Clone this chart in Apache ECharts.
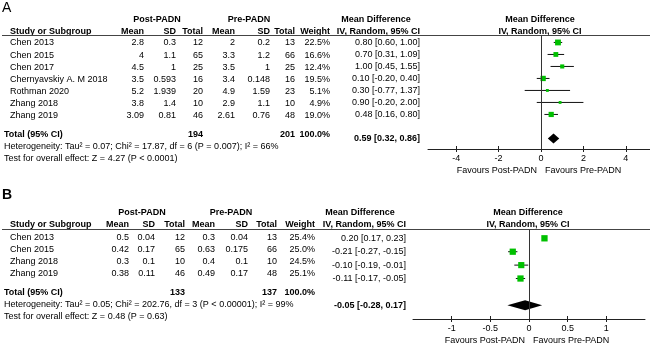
<!DOCTYPE html>
<html>
<head>
<meta charset="utf-8">
<script src="https://cdn.jsdelivr.net/npm/echarts@6/dist/echarts.min.js"></script>
<style>
  html, body { margin: 0; padding: 0; background: #fff; }
  #main { width: 650px; height: 346px; }
</style>
</head>
<body>
<div id="main"></div>
<script>
// panel A data
var studiesA = ["Chen 2013", "Chen 2015", "Chen 2017", "Chernyavskiy A. M 2018", "Rothman 2020", "Zhang 2018", "Zhang 2019"];
var postMeanA = [2.8, 4, 4.5, 3.5, 5.2, 3.8, 3.09];
var postSdA = [0.3, 1.1, 1, 0.593, 1.939, 1.4, 0.81];
var postTotalA = [12, 65, 25, 16, 20, 10, 46];
var preMeanA = [2, 3.3, 3.5, 3.4, 4.9, 2.9, 2.61];
var preSdA = [0.2, 1.2, 1, 0.148, 1.59, 1.1, 0.76];
var preTotalA = [13, 66, 25, 16, 23, 10, 48];
var weightA = [22.5, 16.6, 12.4, 19.5, 5.1, 4.9, 19.0];
var mdA = [0.80, 0.70, 1.00, 0.10, 0.30, 0.90, 0.48];
var lowA = [0.60, 0.31, 0.45, -0.20, -0.77, -0.20, 0.16];
var highA = [1.00, 1.09, 1.55, 0.40, 1.37, 2.00, 0.80];
var totalA = { post: 194, pre: 201, md: 0.59, low: 0.32, high: 0.86 };
var hetA = "Heterogeneity: Tau\u00b2 = 0.07; Chi\u00b2 = 17.87, df = 6 (P = 0.007); I\u00b2 = 66%";
var testA = "Test for overall effect: Z = 4.27 (P < 0.0001)";
var ticksA = [-4, -2, 0, 2, 4];

// panel B data
var studiesB = ["Chen 2013", "Chen 2015", "Zhang 2018", "Zhang 2019"];
var postMeanB = [0.5, 0.42, 0.3, 0.38];
var postSdB = [0.04, 0.17, 0.1, 0.11];
var postTotalB = [12, 65, 10, 46];
var preMeanB = [0.3, 0.63, 0.4, 0.49];
var preSdB = [0.04, 0.175, 0.1, 0.17];
var preTotalB = [13, 66, 10, 48];
var weightB = [25.4, 25.0, 24.5, 25.1];
var mdB = [0.20, -0.21, -0.10, -0.11];
var lowB = [0.17, -0.27, -0.19, -0.17];
var highB = [0.23, -0.15, -0.01, -0.05];
var totalB = { post: 133, pre: 137, md: -0.05, low: -0.28, high: 0.17 };
var hetB = "Heterogeneity: Tau\u00b2 = 0.05; Chi\u00b2 = 202.76, df = 3 (P < 0.00001); I\u00b2 = 99%";
var testB = "Test for overall effect: Z = 0.48 (P = 0.63)";
var ticksB = [-1, -0.5, 0, 0.5, 1];

var FONT = '9px "Liberation Sans", Arial, sans-serif';
var BFONT = 'bold 9px "Liberation Sans", Arial, sans-serif';
var GREEN = "#00c000";

function txt(x, y, s, align, bold) {
  return {
    type: "text", x: x, y: y, silent: true,
    style: { text: String(s), font: bold ? BFONT : FONT, fill: "#000", align: align || "left", verticalAlign: "middle" }
  };
}
function ci(md, lo, hi) {
  return md.toFixed(2) + " [" + lo.toFixed(2) + ", " + hi.toFixed(2) + "]";
}

// table part of one panel
function table(p) {
  var g = [];
  var c = p.cols;
  g.push(txt(2, p.labelY, p.label, "left", p.labelBold));
  g[g.length - 1].style.font = (p.labelBold ? "bold " : "") + '14px "Liberation Sans", Arial, sans-serif';
  g.push(txt(c.postHead, p.headY, "Post-PADN", "center", true));
  g.push(txt(c.preHead, p.headY, "Pre-PADN", "center", true));
  g.push(txt(c.ivHead, p.headY, "Mean Difference", "center", true));
  g.push(txt(c.forestHead, p.headY, "Mean Difference", "center", true));
  g.push(txt(10, p.colY, "Study or Subgroup", "left", true));
  g.push(txt(c.mean, p.colY, "Mean", "right", true));
  g.push(txt(c.sd, p.colY, "SD", "right", true));
  g.push(txt(c.total, p.colY, "Total", "right", true));
  g.push(txt(c.pmean, p.colY, "Mean", "right", true));
  g.push(txt(c.psd, p.colY, "SD", "right", true));
  g.push(txt(c.ptotal, p.colY, "Total", "right", true));
  g.push(txt(c.weight, p.colY, "Weight", "right", true));
  g.push(txt(c.iv, p.colY, "IV, Random, 95% CI", "right", true));
  g.push(txt(c.forestHead, p.colY, "IV, Random, 95% CI", "center", true));
  g.push({ type: "line", silent: true, shape: { x1: 2, y1: p.lineY, x2: 650, y2: p.lineY }, style: { stroke: "#444", lineWidth: 1 } });
  p.studies.forEach(function (s, i) {
    var y = p.rowY0 + p.rowDy * i;
    var yr = p.ivY0 + p.ivDy * i;
    g.push(txt(10, y, s, "left"));
    g.push(txt(c.mean, y, p.postMean[i], "right"));
    g.push(txt(c.sd, y, p.postSd[i], "right"));
    g.push(txt(c.total, y, p.postTotal[i], "right"));
    g.push(txt(c.pmean, y, p.preMean[i], "right"));
    g.push(txt(c.psd, y, p.preSd[i], "right"));
    g.push(txt(c.ptotal, y, p.preTotal[i], "right"));
    g.push(txt(c.weight, y, p.weight[i].toFixed(1) + "%", "right"));
    g.push(txt(c.iv, yr, ci(p.md[i], p.low[i], p.high[i]), "right"));
  });
  g.push(txt(4, p.totalY, "Total (95% CI)", "left", true));
  g.push(txt(c.total, p.totalY, p.total.post, "right", true));
  g.push(txt(c.ptotal, p.totalY, p.total.pre, "right", true));
  g.push(txt(c.weight, p.totalY, "100.0%", "right", true));
  g.push(txt(c.iv, p.ivTotalY, ci(p.total.md, p.total.low, p.total.high), "right", true));
  g.push(txt(4, p.totalY + 12, p.het, "left"));
  g.push(txt(4, p.totalY + 24, p.test, "left"));
  g.push(txt(p.favX - 4, p.favY, "Favours Post-PADN", "right"));
  g.push(txt(p.favX + 4, p.favY, "Favours Pre-PADN", "left"));
  return g;
}

var graphics = table({
  label: "A", labelY: 8, labelBold: false, headY: 19.5, colY: 31.5, lineY: 35.5,
  cols: { postHead: 157, preHead: 249, ivHead: 376, forestHead: 540, mean: 144, sd: 176, total: 203, pmean: 235, psd: 270, ptotal: 295, weight: 330, iv: 420 },
  studies: studiesA, postMean: postMeanA, postSd: postSdA, postTotal: postTotalA,
  preMean: preMeanA, preSd: preSdA, preTotal: preTotalA, weight: weightA,
  md: mdA, low: lowA, high: highA, total: totalA, het: hetA, test: testA,
  rowY0: 43, rowDy: 12.1, ivY0: 42.5, ivDy: 12, totalY: 135, ivTotalY: 138.4,
  favX: 541, favY: 171
}).concat(table({
  label: "B", labelY: 195, labelBold: true, headY: 212.7, colY: 224.5, lineY: 229.5,
  cols: { postHead: 142, preHead: 231, ivHead: 360, forestHead: 528, mean: 129, sd: 155, total: 185, pmean: 215, psd: 248, ptotal: 277, weight: 315, iv: 406 },
  studies: studiesB, postMean: postMeanB, postSd: postSdB, postTotal: postTotalB,
  preMean: preMeanB, preSd: preSdB, preTotal: preTotalB, weight: weightB,
  md: mdB, low: lowB, high: highB, total: totalB, het: hetB, test: testB,
  rowY0: 238, rowDy: 12, ivY0: 238.3, ivDy: 13.4, totalY: 293, ivTotalY: 305.3,
  favX: 529, favY: 341
}));

// forest plot series for one panel
function forest(idx, md, low, high, weight, total, totalRow) {
  var xi = idx * 2;
  var ciData = md.map(function (m, i) { return [low[i], high[i], i]; });
  var sqData = md.map(function (m, i) { return { value: [m, i], symbolSize: 2 + weight[i] * 0.17 }; });
  return [
    {
      type: "custom", xAxisIndex: xi, yAxisIndex: idx, silent: true,
      data: ciData,
      renderItem: function (params, api) {
        var a = api.coord([api.value(0), api.value(2)]);
        var b = api.coord([api.value(1), api.value(2)]);
        return { type: "line", shape: { x1: a[0], y1: a[1], x2: b[0], y2: b[1] }, style: { stroke: "#111", lineWidth: 1 } };
      },
      markLine: {
        silent: true, symbol: "none", label: { show: false },
        lineStyle: { color: "#333", width: 1, type: "solid" },
        data: [{ xAxis: 0 }]
      }
    },
    {
      type: "scatter", xAxisIndex: xi, yAxisIndex: idx, silent: true,
      symbol: "rect", itemStyle: { color: GREEN, opacity: 1 },
      data: sqData
    },
    {
      type: "custom", xAxisIndex: xi, yAxisIndex: idx, silent: true,
      data: [[total.md, total.low, total.high, totalRow]],
      renderItem: function (params, api) {
        var r = api.value(3);
        var c = api.coord([api.value(0), r]);
        var l = api.coord([api.value(1), r]);
        var h = api.coord([api.value(2), r]);
        return {
          type: "polygon",
          shape: { points: [[l[0], c[1]], [c[0], c[1] - 5], [h[0], c[1]], [c[0], c[1] + 5]] },
          style: { fill: "#000" }
        };
      }
    }
  ];
}

function xAxes(grid, min, max, ticks) {
  return [
    {
      type: "value", gridIndex: grid, min: min, max: max, position: "bottom",
      splitLine: { show: false },
      axisLine: { show: true, onZero: false, lineStyle: { color: "#222", width: 1 } },
      axisTick: { show: true, length: 3, customValues: ticks, lineStyle: { color: "#222" } },
      axisLabel: { show: true, customValues: ticks, margin: 5, color: "#000", fontSize: 9, fontFamily: "Liberation Sans" }
    },
    {
      type: "value", gridIndex: grid, min: min, max: max, position: "bottom",
      splitLine: { show: false },
      axisLine: { show: false, onZero: false },
      axisTick: { show: true, inside: true, length: 3, customValues: ticks, lineStyle: { color: "#222" } },
      axisLabel: { show: false }
    }
  ];
}

var myChart = echarts.init(document.getElementById("main"), null, { renderer: "canvas" });
var option = {
  animation: false,
  backgroundColor: "#fff",
  grid: [
    { left: 428, top: 35.5, width: 222, height: 113.5 },
    { left: 413, top: 229.5, width: 232, height: 89.5 }
  ],
  xAxis: xAxes(0, -5.33, 5.14, ticksA).concat(xAxes(1, -1.5, 1.5, ticksB)),
  yAxis: [
    { type: "value", gridIndex: 0, min: -0.58, max: 8.88, inverse: true, show: false },
    { type: "value", gridIndex: 1, min: -0.657, max: 6.02, inverse: true, show: false }
  ],
  graphic: graphics,
  series: forest(0, mdA, lowA, highA, weightA, totalA, 8).concat(forest(1, mdB, lowB, highB, weightB, totalB, 5))
};
option && myChart.setOption(option);
</script>
</body>
</html>
